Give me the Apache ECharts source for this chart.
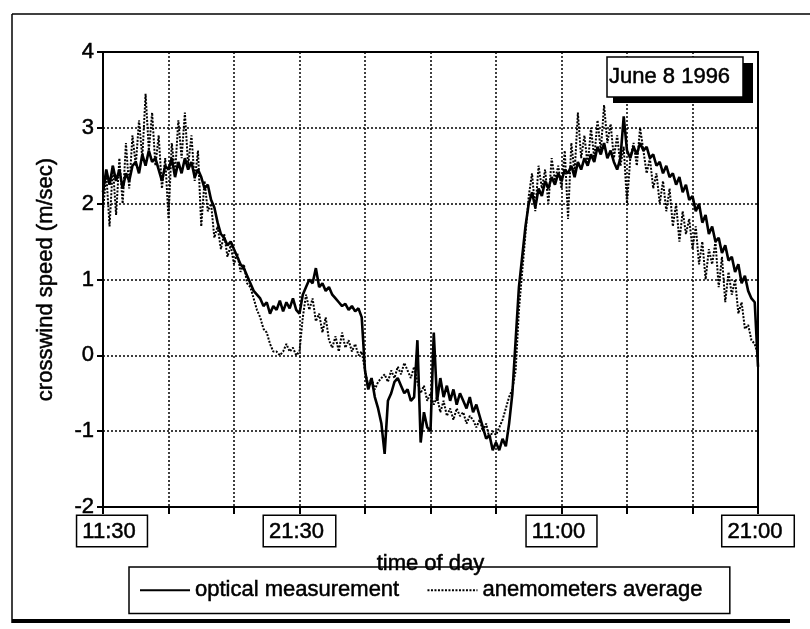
<!DOCTYPE html>
<html lang="en">
<head>
<meta charset="UTF-8">
<title>crosswind speed</title>
<style>
  html, body { margin: 0; padding: 0; background: #fff; }
  #app { width: 810px; height: 629px; }
</style>
</head>
<body>
<div id="app"></div>
<script src="https://cdn.jsdelivr.net/npm/echarts@6/dist/echarts.min.js"></script>
<script>
// x runs in grid divisions (0..10), one sample every 0.05 division
var STEP = 0.05;

var tickPos = [0, 3, 7, 10];
var tickText = ['11:30', '21:30', '11:00', '21:00'];

var seriesNames = ['optical measurement', 'anemometers average'];

// solid trace
var optical = [
  2.15, 2.45, 2.25, 2.5, 2.3, 2.45, 2.2, 2.4, 2.3, 2.5,
  2.55, 2.4, 2.65, 2.5, 2.7, 2.55, 2.6, 2.45, 2.3, 2.5,
  2.45, 2.6, 2.35, 2.55, 2.4, 2.6, 2.45, 2.55, 2.35, 2.45,
  2.35, 2.2, 2.25, 2.05, 1.95, 1.75, 1.6, 1.55, 1.45, 1.5,
  1.4, 1.3, 1.2, 1.15, 1.05, 0.95, 0.85, 0.8, 0.75, 0.65,
  0.7, 0.55, 0.65, 0.6, 0.72, 0.58, 0.7, 0.62, 0.75, 0.6,
  0.55, 0.8, 0.9, 1.0, 0.95, 1.15, 0.9, 0.95, 0.85, 0.9,
  0.8, 0.75, 0.7, 0.65, 0.68, 0.6, 0.65, 0.58, 0.62, 0.5,
  -0.2, -0.45, -0.3, -0.55, -0.7, -0.9, -1.3, -0.6, -0.5, -0.35,
  -0.3, -0.4, -0.5, -0.45, -0.6, -0.55, 0.2, -1.15, -0.75, -0.95,
  -1.0, 0.3, -0.6, -0.3, -0.55, -0.4, -0.6, -0.45, -0.65, -0.5,
  -0.6, -0.7, -0.55, -0.75, -0.65, -0.8, -0.95, -1.1, -1.05, -1.25,
  -1.15, -1.25, -1.1, -1.2, -0.9, -0.5, 0.2, 0.9, 1.3, 1.7,
  2.0, 2.15, 1.95, 2.2, 2.1, 2.3, 2.2, 2.35, 2.25, 2.4,
  2.3, 2.45, 2.4, 2.5, 2.35, 2.55, 2.45, 2.6, 2.5, 2.65,
  2.55, 2.75, 2.65, 2.8, 2.6, 2.7, 2.55, 2.45, 2.6, 3.15,
  2.7, 2.6, 2.75, 2.65, 2.8, 2.7, 2.75, 2.6, 2.65, 2.5,
  2.55, 2.4, 2.5, 2.35, 2.4, 2.25, 2.35, 2.15, 2.25, 2.05,
  2.1, 1.9, 2.0, 1.75, 1.85, 1.6, 1.7, 1.5, 1.55, 1.35,
  1.45, 1.25, 1.3, 1.1, 1.2, 0.95, 1.05, 0.85, 0.75, 0.7,
  -0.15
];

// dotted trace
var anemo = [
  1.9, 2.4, 1.7, 2.5, 1.85, 2.6, 2.0, 2.8, 2.2, 2.9,
  2.5, 3.1, 2.6, 3.45, 2.7, 3.2, 2.5, 2.9, 2.2, 2.6,
  1.8, 2.8, 2.4, 3.1, 2.6, 3.2, 2.5, 2.9, 2.3, 2.7,
  1.7, 2.3, 1.9, 2.0, 1.55, 1.7, 1.4, 1.6, 1.3, 1.45,
  1.2, 1.35, 1.1, 1.2, 0.95, 0.9, 0.75, 0.6, 0.5, 0.35,
  0.3, 0.15, 0.05, 0.05, 0.0, 0.05, 0.15, 0.05, 0.1, 0.0,
  0.05, 0.5, 0.8, 0.6, 0.75, 0.45, 0.55, 0.3, 0.5, 0.2,
  0.1, 0.25, 0.05, 0.3, 0.1, 0.2, 0.05, 0.15, 0.0, 0.05,
  -0.2, -0.4, -0.3, -0.45, -0.35, -0.3, -0.25, -0.35, -0.2, -0.3,
  -0.15, -0.25, -0.1, -0.2, -0.3, -0.15, -0.35, -0.5, -0.4, -0.6,
  -0.5, -0.65, -0.55, -0.75, -0.6, -0.8, -0.7, -0.85, -0.7, -0.8,
  -0.75, -0.9, -0.8, -0.85, -0.95, -0.85, -1.0, -0.9, -1.1, -1.0,
  -1.05, -0.95, -0.85, -0.7, -0.55, -0.45, -0.2, 0.6, 1.1, 1.6,
  2.1, 2.4, 1.9, 2.5, 2.2, 2.45, 2.0, 2.6, 2.3, 2.5,
  2.2, 2.7, 1.8, 2.8, 2.4, 3.2, 2.6, 2.9, 2.5, 3.0,
  2.6, 3.1, 2.7, 3.3, 2.8, 3.05, 2.6, 2.9, 2.5, 2.75,
  2.0, 2.6, 2.8, 2.5, 3.0, 2.7, 2.4, 2.6, 2.2, 2.4,
  2.0, 2.3, 1.9, 2.2, 1.7, 2.0, 1.5, 1.9, 1.6, 1.8,
  1.4, 1.7, 1.2, 1.5, 1.0, 1.4, 1.2, 1.5, 0.9, 1.3,
  0.7, 1.1, 0.8, 1.0, 0.55, 0.7, 0.35, 0.4, 0.2, 0.15,
  0.0
];

var FONT = "'Liberation Sans', Arial, sans-serif";
// scanned print looks heavy, thicken glyphs a little
var INK = { textBorderColor: '#000', textBorderWidth: 0.5 };

function toPoints(arr) {
  return arr.map(function (v, i) { return [+(i * STEP).toFixed(2), v]; });
}

var chart = echarts.init(document.getElementById('app'));

var option = {
  animation: false,
  backgroundColor: '#fff',
  textStyle: { fontFamily: FONT, color: '#000' },
  grid: {
    left: 103, top: 52, width: 655, height: 455,
    show: true, borderColor: '#000', borderWidth: 2, backgroundColor: 'transparent'
  },
  xAxis: {
    type: 'value',
    min: 0, max: 10, interval: 1,
    name: 'time of day',
    nameLocation: 'middle',
    nameGap: 31,
    nameTextStyle: Object.assign({ fontSize: 22, color: '#000', fontFamily: FONT }, INK),
    axisLine: { show: true, onZero: false, lineStyle: { color: '#000', width: 2 } },
    axisTick: { show: true, length: 7, lineStyle: { color: '#000', width: 2 } },
    splitLine: { show: true, lineStyle: { color: '#000', width: 1.5, type: [2, 2] } },
    axisLabel: {
      margin: 12,
      showMinLabel: true, showMaxLabel: true,
      formatter: function (val) {
        var k = tickPos.indexOf(Math.round(val));
        if (k < 0) return '';
        if (k === 0) return '{s| }{b|' + tickText[k] + '}';
        return '{b|' + tickText[k] + '}';
      },
      rich: {
        b: Object.assign({
          fontSize: 22, fontFamily: FONT, color: '#000', lineHeight: 24,
          padding: [5, 11, 3, 5], borderColor: '#000', borderWidth: 1.5,
          backgroundColor: '#fff'
        }, INK),
        s: { width: 18, fontSize: 22 }
      }
    }
  },
  yAxis: {
    type: 'value',
    min: -2, max: 4, interval: 1,
    name: 'crosswind speed (m/sec)',
    nameLocation: 'middle',
    nameGap: 46,
    nameTextStyle: Object.assign({ fontSize: 22, color: '#000', fontFamily: FONT }, INK),
    axisLine: { show: true, onZero: false, lineStyle: { color: '#000', width: 2 } },
    axisTick: { show: true, length: 6, lineStyle: { color: '#000', width: 2 } },
    splitLine: { show: true, lineStyle: { color: '#000', width: 1.5, type: [2, 2] } },
    axisLabel: Object.assign({ fontSize: 22, color: '#000', margin: 9, fontFamily: FONT }, INK)
  },
  legend: {
    left: 129, top: 567,
    padding: [12, 27, 12, 10],
    itemGap: 27,
    itemWidth: 50,
    itemHeight: 14,
    borderColor: '#000',
    borderWidth: 1.5,
    data: seriesNames,
    itemStyle: { opacity: 0 },
    textStyle: Object.assign({ fontSize: 22, color: '#000', fontFamily: FONT }, INK)
  },
  series: [
    {
      name: seriesNames[1],
      type: 'line',
      data: toPoints(anemo),
      showSymbol: false,
      symbol: 'none',
      z: 2,
      lineStyle: { color: '#000', width: 2, type: [2, 1.5] },
      itemStyle: { color: '#000' }
    },
    {
      name: seriesNames[0],
      type: 'line',
      data: toPoints(optical),
      showSymbol: false,
      symbol: 'none',
      z: 3,
      lineStyle: { color: '#000', width: 2.6 },
      itemStyle: { color: '#000' }
    }
  ],
  graphic: [
    // outer frame: top and left edges, heavy bottom rule
    { type: 'line', shape: { x1: 12, y1: 14, x2: 810, y2: 14 },
      style: { stroke: '#000', lineWidth: 1.5 }, z: 0 },
    { type: 'line', shape: { x1: 12, y1: 14, x2: 12, y2: 623 },
      style: { stroke: '#000', lineWidth: 1.5 }, z: 0 },
    { type: 'rect', shape: { x: 12, y: 619, width: 778, height: 4 },
      style: { fill: '#000' }, z: 0 },
    // date annotation with drop shadow
    { type: 'rect', shape: { x: 613, y: 63, width: 140, height: 40 },
      style: { fill: '#000' }, z: 50 },
    { type: 'rect', shape: { x: 607, y: 57, width: 136, height: 40 },
      style: { fill: '#fff', stroke: '#000', lineWidth: 1.5 }, z: 51 },
    { type: 'text', x: 609, y: 66,
      style: { text: 'June 8 1996', font: "22px 'Liberation Sans', Arial, sans-serif",
        fill: '#000', stroke: '#000', lineWidth: 0.5 }, z: 52 }
  ]
};

chart.setOption(option);
</script>
</body>
</html>
